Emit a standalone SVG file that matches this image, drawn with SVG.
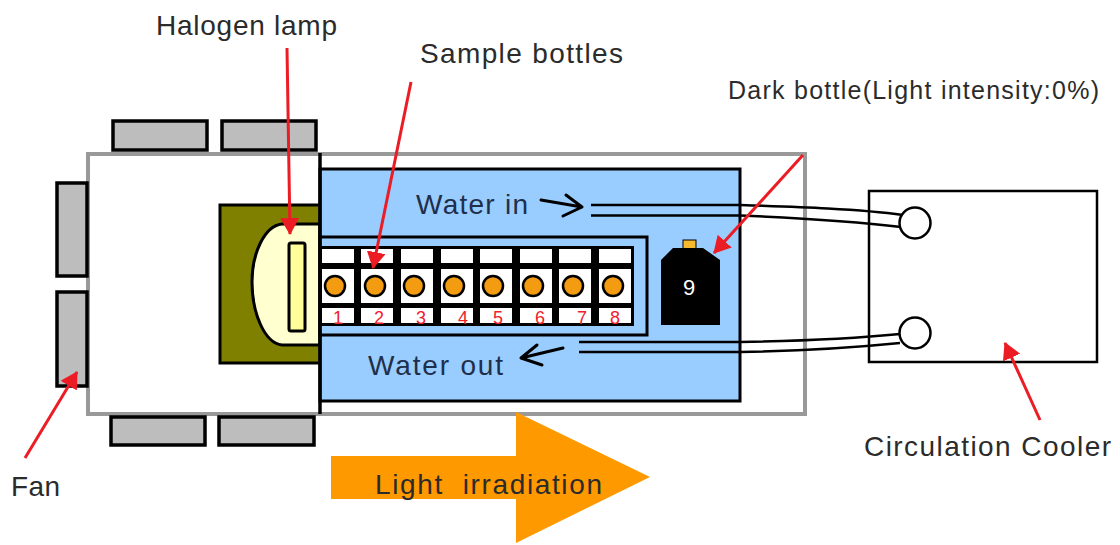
<svg xmlns="http://www.w3.org/2000/svg" width="1120" height="545" viewBox="0 0 1120 545">
<style>
text{font-family:"Liberation Sans",Arial,sans-serif;fill:#2b2b2b;font-size:28px}
.w{fill:#1f2f4a}
.fan{fill:#bdbdbd;stroke:#000;stroke-width:3.5}
.cell{fill:#fff}
.bar{fill:#000}
.dot{fill:#f39c12;stroke:#000;stroke-width:2.5}
.n{fill:#f0202a;font-size:18px;text-anchor:middle}
.pipe{fill:none;stroke:#000;stroke-width:2.5}
.ow{fill:none;stroke:#000;stroke-width:3;stroke-linecap:round;stroke-linejoin:round}
.red{fill:none;stroke:#ec1c24;stroke-width:3;marker-end:url(#r)}
</style>
<defs><marker id="r" markerUnits="userSpaceOnUse" markerWidth="22" markerHeight="20" refX="16" refY="9.500" orient="auto"><path d="M0 0L17 9.500L0 19Z" fill="#ec1c24"/></marker></defs>
<rect width="1120" height="545" fill="#fff"/>
<g id="housing"><rect x="88" y="154" width="717" height="260" fill="#fff" stroke="#999" stroke-width="4"/></g>
<g id="fans">
<rect class="fan" x="113" y="121" width="94" height="29"/>
<rect class="fan" x="222" y="121" width="94" height="29"/>
<rect class="fan" x="57" y="183" width="30" height="93"/>
<rect class="fan" x="57" y="292" width="30" height="94"/>
<rect class="fan" x="111" y="417" width="94" height="28"/>
<rect class="fan" x="219" y="417" width="95" height="28"/>
</g>
<g id="halogen-lamp">
<rect x="220" y="205" width="101" height="158" fill="#808000" stroke="#000" stroke-width="3"/>
<path d="M320 224H282C264 226 252 254 252 282C252 312 264 343 282 345H320Z" fill="#ffffd0" stroke="#000" stroke-width="3"/>
<rect x="289" y="243" width="16" height="88" rx="2" fill="#ffff99" stroke="#000" stroke-width="3"/>
</g>
<g id="water-bath">
<rect x="320" y="169" width="420" height="232" fill="#99ccff" stroke="#000" stroke-width="3"/>
<rect x="320" y="237" width="327" height="98" fill="#99ccff" stroke="#000" stroke-width="3"/>
<line x1="320" y1="153" x2="320" y2="414" stroke="#000" stroke-width="3.500"/>
</g>
<g id="sample-bottles">
<rect class="bar" x="320" y="246" width="314" height="80"/>
<g class="cell">
<rect x="322" y="249" width="32" height="14"/><rect x="361" y="249" width="32" height="14"/><rect x="401" y="249" width="32" height="14"/><rect x="441" y="249" width="32" height="14"/><rect x="480" y="249" width="32" height="14"/><rect x="520" y="249" width="32" height="14"/><rect x="559" y="249" width="32" height="14"/><rect x="599" y="249" width="32" height="14"/>
<rect x="322" y="269" width="32" height="34"/><rect x="361" y="269" width="32" height="34"/><rect x="401" y="269" width="32" height="34"/><rect x="441" y="269" width="32" height="34"/><rect x="480" y="269" width="32" height="34"/><rect x="520" y="269" width="32" height="34"/><rect x="559" y="269" width="32" height="34"/><rect x="599" y="269" width="32" height="34"/>
<rect x="322" y="308" width="32" height="15"/><rect x="361" y="308" width="32" height="15"/><rect x="401" y="308" width="32" height="15"/><rect x="441" y="308" width="32" height="15"/><rect x="480" y="308" width="32" height="15"/><rect x="520" y="308" width="32" height="15"/><rect x="559" y="308" width="32" height="15"/><rect x="599" y="308" width="32" height="15"/>
</g>
<circle class="dot" cx="335" cy="286" r="10"/><circle class="dot" cx="375" cy="286" r="10"/><circle class="dot" cx="414" cy="286" r="10"/><circle class="dot" cx="454" cy="286" r="10"/><circle class="dot" cx="493" cy="286" r="10"/><circle class="dot" cx="533" cy="286" r="10"/><circle class="dot" cx="573" cy="286" r="10"/><circle class="dot" cx="613" cy="286" r="10"/>
<text class="n" x="338" y="324">1</text><text class="n" x="379" y="324">2</text><text class="n" x="421" y="324">3</text><text class="n" x="463" y="324">4</text><text class="n" x="498" y="324">5</text><text class="n" x="540" y="324">6</text><text class="n" x="582" y="324">7</text><text class="n" x="615" y="324">8</text>
</g>
<g id="dark-bottle">
<rect x="683" y="240" width="13" height="9" fill="#f5b82e" stroke="#000" stroke-width="1"/>
<path d="M661 260L673 248H703L720 260V325H661Z" fill="#000"/>
<text x="689" y="295" text-anchor="middle" style="fill:#fff;font-size:22px">9</text>
</g>
<g id="cooler">
<rect x="869" y="191" width="228" height="171" fill="#fff" stroke="#000" stroke-width="2.500"/>
</g>
<g id="connectors">
<path class="pipe" d="M591 205H740C800 207 860 209 903 215"/>
<path class="pipe" d="M591 215.500H740C800 218 860 222 901 227"/>
<path class="pipe" d="M579 342H740C800 341 860 338 900 334"/>
<path class="pipe" d="M579 352H740C800 351 860 347 900 343"/>
<path class="ow" d="M541 200L582 207M566 195L582 207L563 216"/>
<path class="ow" d="M563 348L521 358M537 345L521 358L542 365"/>
<path class="red" d="M287 48L290 234"/>
<path class="red" d="M411 82L373 268"/>
<path class="red" d="M803 155L714 253"/>
<path class="red" d="M25 458L77 372"/>
<path class="red" d="M1040 420L1005 343"/>
</g>
<g id="ports">
<circle cx="915" cy="223" r="15.500" fill="#fff" stroke="#000" stroke-width="2.500"/>
<circle cx="915" cy="333" r="15.500" fill="#fff" stroke="#000" stroke-width="2.500"/>
</g>
<g id="light-irradiation">
<path d="M331 456H516V412L650 477L516 543V499H331Z" fill="#ff9900"/>
<text x="375" y="494" textLength="227" xml:space="preserve">Light  irradiation</text>
</g>
<g id="labels">
<text x="156" y="35" textLength="181">Halogen lamp</text>
<text x="420" y="63" textLength="203">Sample bottles</text>
<text x="728" y="99" style="font-size:25px" textLength="371">Dark bottle(Light intensity:0%)</text>
<text class="w" x="416" y="214" textLength="112">Water in</text>
<text class="w" x="368" y="375" textLength="135">Water out</text>
<text x="864" y="456" textLength="247">Circulation Cooler</text>
<text x="11" y="496" textLength="49">Fan</text>
</g>
</svg>
